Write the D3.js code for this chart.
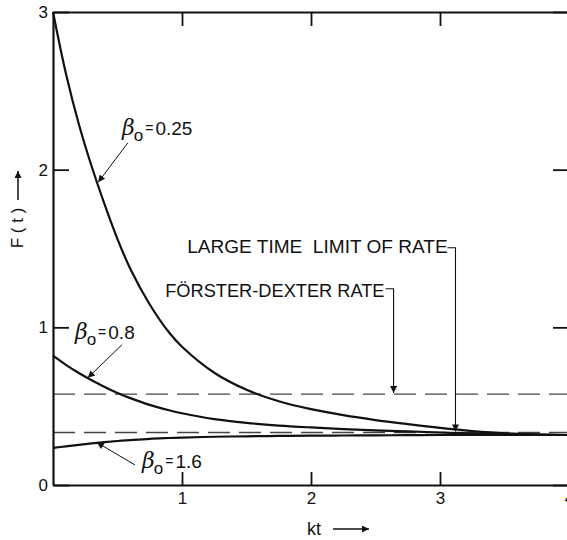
<!DOCTYPE html>
<html><head><meta charset="utf-8">
<script src="https://cdn.jsdelivr.net/npm/d3@7"></script>
<style>
body{margin:0;background:#fff;}
text{font-family:"Liberation Sans",Arial,sans-serif;fill:#111;}
</style></head>
<body><svg id="c" width="567" height="540"></svg>
<script>
// ---- data ----
const kt = [0, 0.1, 0.2, 0.3, 0.4, 0.5, 0.6, 0.75, 0.9, 1.0, 1.25, 1.5, 1.75, 2.0, 2.25, 2.5, 2.75, 3.0, 3.25, 3.5, 4.0];
const F_beta025 = [3.0, 2.61, 2.29, 2.02, 1.78, 1.56, 1.37, 1.145, 0.967, 0.877, 0.712, 0.604, 0.531, 0.481, 0.443, 0.412, 0.386, 0.362, 0.342, 0.328, 0.317];
const F_beta08  = [0.82, 0.762, 0.71, 0.664, 0.622, 0.584, 0.551, 0.508, 0.474, 0.455, 0.418, 0.394, 0.377, 0.365, 0.355, 0.347, 0.34, 0.333, 0.326, 0.321, 0.317];
const F_beta16  = [0.235, 0.245, 0.255, 0.264, 0.272, 0.279, 0.285, 0.293, 0.298, 0.301, 0.306, 0.309, 0.311, 0.313, 0.314, 0.315, 0.316, 0.317, 0.317, 0.317, 0.317];
const forsterDexterRate = 0.577;
const largeTimeLimit = 0.333;
const xTicks = [1, 2, 3, 4];
const xTickLabels = ["1", "2", "3", "4"];
const yTicks = [0, 1, 2, 3];
const yTickLabels = ["0", "1", "2", "3"];
const seriesLabels = ["0.25", "0.8", "1.6"];
// label anchor (kt,F), arrow start (kt,F), arrow tip (kt,F)
const labelPos = [[0.535, 2.22], [0.17, 0.925], [0.69, 0.11]];
const arrowFrom = [[0.58, 2.17], [0.535, 0.89], [0.636, 0.127]];
const arrowTo = [[0.35, 1.92], [0.27, 0.68], [0.34, 0.27]];
const refTexts = ["LARGE TIME  LIMIT OF RATE", "FÖRSTER-DEXTER RATE"];
const refTextPos = [[1.04, 1.47], [0.87, 1.19]];
const refTextEnd = [3.06, 2.57];
const refBracket = [[3.12, 1.505, largeTimeLimit], [2.64, 1.245, forsterDexterRate]];

// ---- chart ----
const svg = d3.select("#c");
const x = d3.scaleLinear().domain([0, 4]).range([53, 569]);
const y = d3.scaleLinear().domain([0, 3]).range([485, 12]);

const defs = svg.append("defs");
defs.append("marker").attr("id", "ah").attr("viewBox", "0 0 10 10")
  .attr("refX", 10).attr("refY", 5).attr("markerWidth", 11).attr("markerHeight", 7)
  .attr("markerUnits", "userSpaceOnUse").attr("orient", "auto")
  .append("path").attr("d", "M0,0 L10,5 L0,10 Z").attr("fill", "#111");

// dashed reference lines
[forsterDexterRate, largeTimeLimit].forEach(v => {
  svg.append("line").attr("x1", x(0)).attr("x2", x(4)).attr("y1", y(v)).attr("y2", y(v))
    .attr("stroke", "#444").attr("stroke-width", 1.3).attr("stroke-dasharray", "22,9");
});

// curves
const line = d3.line().x((d, i) => x(kt[i])).y(d => y(d)).curve(d3.curveCatmullRom.alpha(0.5));
[F_beta025, F_beta08, F_beta16].forEach(s => {
  svg.append("path").attr("d", line(s)).attr("fill", "none")
    .attr("stroke", "#111").attr("stroke-width", 2.2);
});

// axes
function styleAxis(g) {
  g.attr("font-size", 17).attr("font-family", "Liberation Sans, Arial, sans-serif");
  g.selectAll("path.domain").attr("stroke", "#111").attr("stroke-width", 2.2);
  g.selectAll(".tick line").attr("stroke", "#111").attr("stroke-width", 1.8);
  g.selectAll("text").attr("font-size", 17).attr("fill", "#111");
}
svg.append("g").attr("transform", `translate(0,${y(0)})`)
  .call(d3.axisBottom(x).tickValues(xTicks).tickFormat((d, i) => xTickLabels[i])
    .tickSizeInner(-13).tickSizeOuter(0).tickPadding(7)).call(styleAxis);
svg.append("g").attr("transform", `translate(${x(0)},0)`)
  .call(d3.axisLeft(y).tickValues(yTicks).tickFormat((d, i) => yTickLabels[i])
    .tickSizeInner(-16).tickSizeOuter(0).tickPadding(5)).call(styleAxis);
svg.append("g").attr("transform", `translate(0,${y(3)})`)
  .call(d3.axisTop(x).tickValues(xTicks).tickFormat("")
    .tickSizeInner(-14).tickSizeOuter(0)).call(styleAxis);
svg.append("g").attr("transform", `translate(${x(4)},0)`)
  .call(d3.axisRight(y).tickValues(yTicks).tickFormat("")
    .tickSizeInner(-16).tickSizeOuter(0)).call(styleAxis);

// series labels with arrows
seriesLabels.forEach((lab, i) => {
  const t = svg.append("text").attr("x", x(labelPos[i][0])).attr("y", y(labelPos[i][1]))
    .attr("font-size", 19);
  t.append("tspan").text("β").attr("font-style", "italic").attr("font-family", "DejaVu Serif, serif").attr("font-size", 22);
  t.append("tspan").text("o").attr("dy", 6).attr("font-size", 17).attr("dx", -1);
  t.append("tspan").text("=").attr("dy", -8).attr("font-size", 14).attr("dx", 2);
  t.append("tspan").text(lab).attr("dy", 2).attr("dx", 2);
  svg.append("line").attr("x1", x(arrowFrom[i][0])).attr("y1", y(arrowFrom[i][1]))
    .attr("x2", x(arrowTo[i][0])).attr("y2", y(arrowTo[i][1]))
    .attr("stroke", "#111").attr("stroke-width", 1).attr("marker-end", "url(#ah)");
});

// reference annotations
refTexts.forEach((txt, i) => {
  svg.append("text").attr("x", x(refTextPos[i][0])).attr("y", y(refTextPos[i][1]))
    .attr("font-size", 18).style("white-space", "pre").attr("xml:space", "preserve")
    .attr("textLength", x(refTextEnd[i]) - x(refTextPos[i][0])).attr("lengthAdjust", "spacingAndGlyphs")
    .text(txt);
  const b = refBracket[i];
  svg.append("path")
    .attr("d", `M${x(b[0]) - 8},${y(b[1])} L${x(b[0])},${y(b[1])} L${x(b[0])},${y(b[2]) - 1}`)
    .attr("fill", "none").attr("stroke", "#111").attr("stroke-width", 1.1).attr("marker-end", "url(#ah)");
});

// axis titles
const yt = svg.append("g").attr("transform", "translate(23,228) rotate(-90)");
yt.append("text").attr("text-anchor", "middle").attr("x", 0).attr("y", 0).attr("font-size", 17)
  .style("white-space", "pre").text("F ( t )");
svg.append("line").attr("x1", 18).attr("x2", 18).attr("y1", 200).attr("y2", 171)
  .attr("stroke", "#111").attr("stroke-width", 1.5).attr("marker-end", "url(#ah)");
svg.append("text").attr("x", 307).attr("y", 535).attr("font-size", 18).text("kt");
svg.append("line").attr("x1", 333).attr("x2", 369).attr("y1", 529).attr("y2", 529)
  .attr("stroke", "#111").attr("stroke-width", 1.5).attr("marker-end", "url(#ah)");
</script></body></html>
